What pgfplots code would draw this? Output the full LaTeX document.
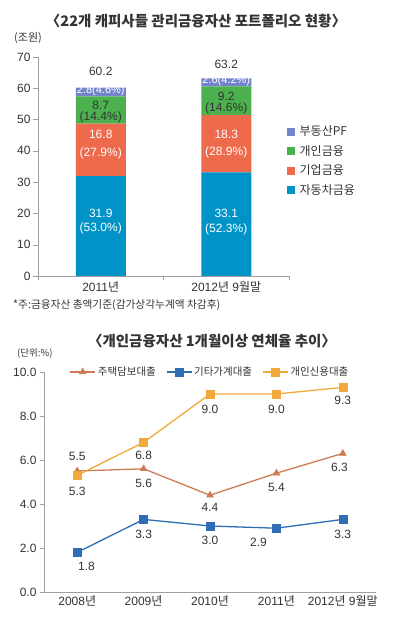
\documentclass[border=0pt]{standalone}
\usepackage{fontspec}
\setmainfont{Liberation Sans}
\newfontfamily\kr{Noto Sans CJK KR}
\usepackage{pgfplots}
\pgfplotsset{compat=1.18}
\definecolor{cblue}{HTML}{0093C8}
\definecolor{cred}{HTML}{EE6A4C}
\definecolor{cgreen}{HTML}{4DB04F}
\definecolor{cpurple}{HTML}{7384CC}
\definecolor{cbrown}{HTML}{CD7B52}
\definecolor{cdblue}{HTML}{2F6DB5}
\definecolor{corange}{HTML}{F2A93B}
\definecolor{axgray}{HTML}{A0A0A0}
\definecolor{txt}{HTML}{333333}
\tikzset{lbl/.style={font=\fontsize{12}{14}\selectfont, text=txt},
         wlbl/.style={font=\fontsize{12}{14}\selectfont, text=white}}
\begin{document}
\begin{tikzpicture}
\useasboundingbox (0,0) rectangle (400pt,623pt);
\node[font=\kr\bfseries\fontsize{14.5}{16}\selectfont, text=txt] at (196pt,602pt) {〈22개 캐피사들 관리금융자산 포트폴리오 현황〉};
\node[anchor=west, inner sep=0pt, font=\kr\fontsize{11}{13}\selectfont, text=txt] at (14pt,585pt) {(조원)};
\begin{axis}[
  at={(38pt,347pt)}, anchor=south west,
  scale only axis, width=251pt, height=219pt,
  xmin=-0.5, xmax=1.5, ymin=0, ymax=70,
  axis lines*=left, axis line style={axgray},
  ytick={0,10,...,70},
  minor ytick={0,10,...,70},
  xtick={0,1},
  xticklabels={2011{\kr 년}, 2012{\kr 년} 9{\kr 월말}},
  minor xtick={-0.5,0.5,1.5},
  tick align=outside, tick style={axgray},
  major tick length=0pt, minor tick length=4.5pt,
  tick label style={font=\fontsize{12}{14}\selectfont, text=txt},
  yticklabel style={xshift=-4pt},
  xticklabel style={yshift=-2.5pt},
  /pgf/number format/assume math mode=true,
  ybar stacked, bar width=50pt,
  reverse legend,
  legend image code/.code={\draw[#1, draw=none] (0pt,-4pt) rectangle (8pt,4pt);},
  legend style={draw=none, fill=none, at={(axis description cs:0.99,0.695)}, anchor=north west,
    inner sep=0pt, row sep=4pt, font=\kr\fontsize{12}{13}\selectfont, text=txt,
    nodes={inner xsep=5pt}},
  legend cell align=left,
]
\addplot[fill=cblue, draw=none] coordinates {(0,31.9) (1,33.1)};
\addplot[fill=cred, draw=none] coordinates {(0,16.8) (1,18.3)};
\addplot[fill=cgreen, draw=none] coordinates {(0,8.7) (1,9.2)};
\addplot[fill=cpurple, draw=none] coordinates {(0,2.8) (1,2.6)};
\legend{자동차금융, 기업금융, 개인금융, 부동산PF}
\coordinate (a1) at (axis cs:0,65.5);
\coordinate (a2) at (axis cs:0,59.4);
\coordinate (a3) at (axis cs:0,54.6);
\coordinate (a4) at (axis cs:0,50.8);
\coordinate (a5) at (axis cs:0,45.4);
\coordinate (a6) at (axis cs:0,39.3);
\coordinate (a7) at (axis cs:0,20.1);
\coordinate (a8) at (axis cs:0,15.3);
\coordinate (b1) at (axis cs:1,67.8);
\coordinate (b2) at (axis cs:1,62.3);
\coordinate (b3) at (axis cs:1,57.5);
\coordinate (b4) at (axis cs:1,53.7);
\coordinate (b5) at (axis cs:1,45.4);
\coordinate (b6) at (axis cs:1,39.6);
\coordinate (b7) at (axis cs:1,20.1);
\coordinate (b8) at (axis cs:1,15.0);
\end{axis}
\node[lbl] at (a1) {60.2};
\node[wlbl, font=\fontsize{11}{13}\selectfont] at (a2) {2.8(4.6\%)};
\node[lbl] at (a3) {8.7};
\node[lbl] at (a4) {(14.4\%)};
\node[wlbl] at (a5) {16.8};
\node[wlbl] at (a6) {(27.9\%)};
\node[wlbl] at (a7) {31.9};
\node[wlbl] at (a8) {(53.0\%)};
\node[lbl] at (b1) {63.2};
\node[wlbl, font=\fontsize{11}{13}\selectfont] at (b2) {2.6(4.2\%)};
\node[lbl] at (b3) {9.2};
\node[lbl] at (b4) {(14.6\%)};
\node[wlbl] at (b5) {18.3};
\node[wlbl] at (b6) {(28.9\%)};
\node[wlbl] at (b7) {33.1};
\node[wlbl] at (b8) {(52.3\%)};
\node[anchor=west, inner sep=0pt, font=\kr\fontsize{10.7}{12}\selectfont, text=txt] at (13pt,318pt) {*주:금융자산 총액기준(감가상각누계액 차감후)};
\node[font=\kr\bfseries\fontsize{14.5}{16}\selectfont, text=txt] at (212pt,282pt) {〈개인금융자산 1개월이상 연체율 추이〉};
\node[anchor=west, inner sep=0pt, font=\kr\fontsize{9.5}{11}\selectfont, text=txt] at (17pt,269pt) {(단위:\%)};
\begin{axis}[
  at={(44pt,31pt)}, anchor=south west,
  scale only axis, width=332pt, height=220pt,
  xmin=-0.5, xmax=4.5, ymin=0, ymax=10,
  axis lines*=left, axis line style={axgray},
  ytick={0,2,...,10},
  yticklabel style={/pgf/number format/.cd, fixed, fixed zerofill, precision=1},
  xtick=\empty,
  minor xtick={0.5,1.5,2.5,3.5,4.5},
  minor tick style={yshift=4pt},
  extra x ticks={0,1,2,3,4},
  extra x tick labels={2008{\kr 년}, 2009{\kr 년}, 2010{\kr 년}, 2011{\kr 년}, 2012{\kr 년} 9{\kr 월말}},
  extra x tick style={major tick length=0pt},
  tick align=outside, tick style={axgray},
  major tick length=4pt, minor tick length=4pt,
  tick label style={font=\fontsize{12}{14}\selectfont, text=txt},
  /pgf/number format/assume math mode=true,
  legend columns=3,
  legend image code/.code={\draw[mark repeat=2,mark phase=2,#1] plot coordinates {(0pt,0pt)(12.5pt,0pt)(25pt,0pt)};},
  legend style={draw=none, fill=none, at={(axis description cs:0.5,1.0)}, anchor=center,
    inner sep=0pt, font=\kr\fontsize{10.5}{12}\selectfont, text=txt,
    /tikz/every even column/.append style={column sep=8pt}},
]
\addplot[color=cbrown, line width=1.3pt, mark=triangle*, mark size=4pt, mark options={solid, line width=0.4pt}] coordinates {(0,5.5)(1,5.6)(2,4.4)(3,5.4)(4,6.3)};
\addplot[color=cdblue, line width=1.3pt, mark=square*, mark size=4pt, mark options={solid, line width=0.4pt}] coordinates {(0,1.8)(1,3.3)(2,3.0)(3,2.9)(4,3.3)};
\addplot[color=corange, line width=1.3pt, mark=square*, mark size=4pt, mark options={solid, line width=0.4pt}] coordinates {(0,5.3)(1,6.8)(2,9.0)(3,9.0)(4,9.3)};
\legend{주택담보대출, 기타가계대출, 개인신용대출}
\node[lbl] at (axis cs:0,6.14) {5.5};
\node[lbl] at (axis cs:0,4.59) {5.3};
\node[lbl] at (axis cs:1,6.23) {6.8};
\node[lbl] at (axis cs:1,4.95) {5.6};
\node[lbl] at (axis cs:2,8.32) {9.0};
\node[lbl] at (axis cs:3,8.32) {9.0};
\node[lbl] at (axis cs:4,8.73) {9.3};
\node[lbl] at (axis cs:3.95,5.68) {6.3};
\node[lbl] at (axis cs:2,3.86) {4.4};
\node[lbl] at (axis cs:3,4.77) {5.4};
\node[lbl] at (axis cs:0.14,1.18) {1.8};
\node[lbl] at (axis cs:1,2.64) {3.3};
\node[lbl] at (axis cs:2,2.36) {3.0};
\node[lbl] at (axis cs:2.73,2.27) {2.9};
\node[lbl] at (axis cs:4,2.64) {3.3};
\end{axis}
\end{tikzpicture}
\end{document}
